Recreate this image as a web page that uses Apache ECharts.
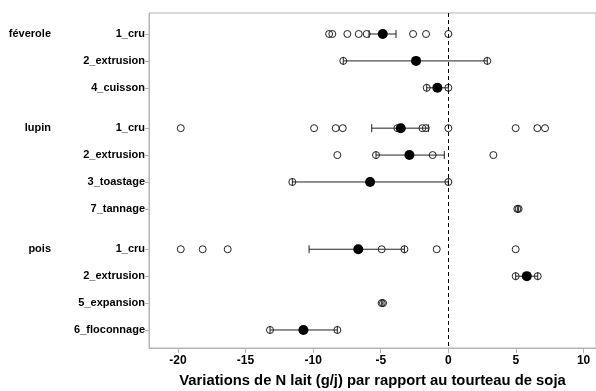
<!DOCTYPE html>
<html>
<head>
<meta charset="utf-8">
<script src="https://cdn.jsdelivr.net/npm/echarts@6/dist/echarts.min.js"></script>
<style>html,body{margin:0;padding:0;background:#fff}#c{width:596px;height:391px}</style>
</head>
<body>
<div id="c"></div>
<script>
// ---- data ----
const rowLabels = ['1_cru','2_extrusion','4_cuisson','1_cru','2_extrusion','3_toastage','7_tannage','1_cru','2_extrusion','5_expansion','6_floconnage'];
const rowPos = [0, 1, 2, 3.5, 4.5, 5.5, 6.5, 8, 9, 10, 11];
const groupLabels = ['féverole', 'lupin', 'pois'];
const groupPos = [0, 3.5, 8];
const xTicks = [-20, -15, -10, -5, 0, 5, 10];

const feveroleCruPts = [-8.82, -8.58, -7.47, -6.63, -6.04, -2.61, -1.65, 0];
const feveroleExtrusionPts = [-7.77, 2.88];
const feveroleCuissonPts = [-1.6, 0];
const lupinCruPts = [-19.79, -9.93, -8.33, -7.81, -3.77, -1.92, -1.67, 0, 4.98, 6.58, 7.15];
const lupinExtrusionPts = [-8.21, -5.35, -1.16, 3.33];
const lupinToastagePts = [-11.54, 0];
const lupinTannagePts = [5.1, 5.2];
const poisCruPts = [-19.79, -18.17, -16.32, -4.93, -3.25, -0.86, 4.98];
const poisExtrusionPts = [4.98, 6.61];
const poisExpansionPts = [-4.93, -4.83];
const poisFloconnagePts = [-13.19, -8.21];

const meanValues = [-4.85, -2.39, -0.81, -3.52, -2.88, -5.79, null, -6.66, 5.8, null, -10.72];
const lowValues  = [-5.87, -7.77, -1.6, -5.67, -5.35, -11.54, 5.1, -10.3, 4.98, -4.93, -13.19];
const highValues = [-3.87, 2.88, 0, -1.48, -0.3, 0, 5.2, -3.25, 6.61, -4.83, -8.21];

const xAxisTitle = 'Variations de N lait (g/j) par rapport au tourteau de soja';

// ---- build ----
const allPts = [feveroleCruPts, feveroleExtrusionPts, feveroleCuissonPts, lupinCruPts, lupinExtrusionPts,
  lupinToastagePts, lupinTannagePts, poisCruPts, poisExtrusionPts, poisExpansionPts, poisFloconnagePts];
const openData = [];
allPts.forEach((arr, i) => arr.forEach(v => openData.push([v, rowPos[i]])));
const meanData = [];
meanValues.forEach((v, i) => { if (v !== null) meanData.push([v, rowPos[i]]); });
const errData = rowPos.map((y, i) => [y, lowValues[i], highValues[i]]);

const FONT = 'Liberation Sans';
const axisGray = '#b4b4b4';

const chart = echarts.init(document.getElementById('c'), null, {renderer: 'canvas'});
chart.setOption({
  animation: false,
  backgroundColor: '#fff',
  grid: {left: 149, top: 13, width: 447, height: 335, show: true, borderColor: axisGray, borderWidth: 1,
         containLabel: false, outerBoundsMode: 'none'},
  xAxis: {
    type: 'value', min: -22.14, max: 10.92,
    splitLine: {show: false},
    axisLine: {show: true, onZero: false, lineStyle: {color: axisGray}},
    axisTick: {show: true, length: 5, lineStyle: {color: axisGray}, customValues: xTicks},
    axisLabel: {customValues: xTicks, margin: 7, color: '#000', fontFamily: FONT, fontWeight: 'bold', fontSize: 12},
    name: xAxisTitle, nameLocation: 'middle', nameGap: 25,
    nameTextStyle: {color: '#000', fontFamily: FONT, fontWeight: 'bold', fontSize: 14.8}
  },
  yAxis: [{
    type: 'value', inverse: true, min: -0.78, max: 11.67,
    splitLine: {show: false},
    axisLine: {show: true, onZero: false, lineStyle: {color: axisGray}},
    axisTick: {show: true, length: 4, lineStyle: {color: axisGray}, customValues: rowPos},
    axisLabel: {
      customValues: rowPos, margin: 4, color: '#000', fontFamily: FONT, fontWeight: 'bold', fontSize: 11,
      formatter: v => { const i = rowPos.indexOf(v); return i >= 0 ? rowLabels[i] : ''; }
    }
  }, {
    type: 'value', inverse: true, min: -0.78, max: 11.67, position: 'left',
    splitLine: {show: false}, axisLine: {show: false}, axisTick: {show: false},
    axisLabel: {
      customValues: groupPos, margin: 98, color: '#000', fontFamily: FONT, fontWeight: 'bold', fontSize: 11,
      formatter: v => { const i = groupPos.indexOf(v); return i >= 0 ? groupLabels[i] : ''; }
    }
  }],
  series: [{
    type: 'scatter', data: openData, symbol: 'circle', symbolSize: 7,
    itemStyle: {color: 'rgba(0,0,0,0)', borderColor: '#222', borderWidth: 1, opacity: 1},
    z: 2,
    markLine: {
      silent: true, symbol: ['none', 'none'], label: {show: false},
      lineStyle: {type: [4, 3], color: '#000', width: 1},
      data: [{xAxis: 0}]
    }
  }, {
    type: 'custom', data: errData, z: 3,
    encode: {x: [1, 2], y: 0},
    renderItem: (params, api) => {
      const y = api.value(0), lo = api.value(1), hi = api.value(2);
      const p1 = api.coord([lo, y]), p2 = api.coord([hi, y]);
      const st = {stroke: '#222', lineWidth: 1};
      return {type: 'group', children: [
        {type: 'line', shape: {x1: p1[0], y1: p1[1], x2: p2[0], y2: p2[1]}, style: st},
        {type: 'line', shape: {x1: p1[0], y1: p1[1] - 4, x2: p1[0], y2: p1[1] + 4}, style: st},
        {type: 'line', shape: {x1: p2[0], y1: p2[1] - 4, x2: p2[0], y2: p2[1] + 4}, style: st}
      ]};
    }
  }, {
    type: 'scatter', data: meanData, symbol: 'circle', symbolSize: 10,
    itemStyle: {color: '#000', opacity: 1}, z: 4
  }]
});
</script>
</body>
</html>
